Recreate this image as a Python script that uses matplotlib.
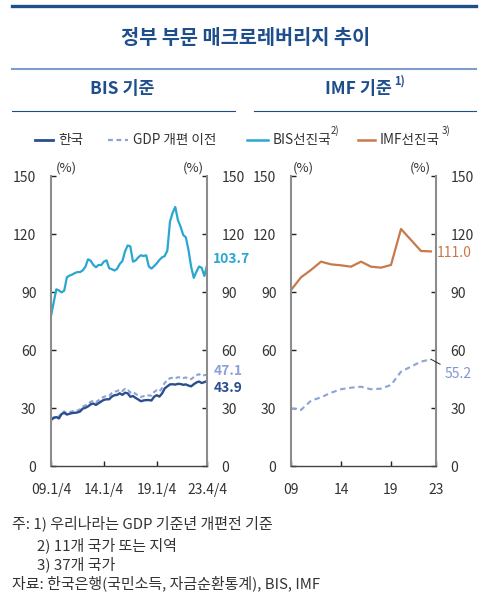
import numpy as np
import matplotlib
matplotlib.use("Agg")
import matplotlib.pyplot as plt
from matplotlib.lines import Line2D

plt.rcParams['font.family'] = ['Noto Sans CJK KR', 'DejaVu Sans']

W, H = 492, 601

# ---------- data ----------
# BIS basis, quarterly 2009.Q1 ~ 2023.Q4
bis_korea = [23.8, 24.8, 25.3, 24.6, 26.9, 27.5, 26.6, 27.0, 27.4, 27.5,
             27.7, 28.2, 29.7, 30.1, 30.8, 31.9, 32.3, 31.6, 32.5, 33.4,
             34.2, 34.5, 34.5, 35.9, 36.6, 36.8, 37.6, 36.8, 37.9, 37.6,
             35.8, 36.2, 35.2, 34.4, 33.5, 33.9, 34.1, 34.1, 33.9, 35.8,
             36.6, 35.9, 37.5, 40.1, 41.2, 42.2, 42.3, 42.1, 42.5, 42.4,
             42.0, 42.2, 41.6, 41.2, 42.3, 43.2, 43.7, 42.9, 43.4, 43.9]
bis_korea_old = [24.3, 25.2, 26.0, 25.5, 27.5, 28.2, 27.3, 27.8, 28.3, 28.4,
                 28.7, 29.3, 30.8, 31.3, 32.1, 33.2, 33.7, 33.0, 34.0, 35.0,
                 35.8, 36.2, 36.3, 37.7, 38.5, 38.7, 39.5, 38.8, 39.9, 39.6,
                 37.9, 38.3, 37.3, 36.5, 35.7, 36.1, 36.4, 36.5, 36.4, 38.3,
                 39.2, 38.6, 40.3, 43.0, 44.3, 45.4, 45.6, 45.4, 45.9, 45.8,
                 45.5, 45.8, 45.2, 44.9, 46.0, 46.9, 47.5, 46.7, 47.0, 47.1]
bis_adv = [77.6, 84.5, 91.4, 90.8, 89.8, 90.7, 97.6, 98.5, 99.0, 99.8,
           100.3, 100.3, 101.2, 103.0, 106.9, 106.2, 104.0, 102.8, 104.0, 103.9,
           105.7, 106.4, 102.3, 101.8, 101.1, 102.0, 104.5, 106.0, 111.0, 114.1,
           113.6, 105.7, 106.3, 107.9, 109.0, 108.6, 109.0, 103.2, 102.1, 103.4,
           104.8, 106.6, 107.9, 108.6, 111.4, 126.4, 131.0, 134.0, 127.2, 123.8,
           119.5, 118.3, 111.7, 103.1, 97.3, 100.5, 103.2, 102.5, 98.3, 103.7]
bis_xticks = ["09.1/4", "14.1/4", "19.1/4", "23.4/4"]

# IMF basis, annual 2009 ~ 2023
imf_years = list(range(2009, 2024))
imf_korea = [29.8, 29.0, 33.8, 35.5, 37.9, 39.7, 40.5, 41.0, 39.7, 40.0,
             41.9, 48.8, 51.4, 54.0, 55.2]
imf_adv = [91.0, 97.6, 101.4, 105.7, 104.3, 103.8, 103.1, 105.7, 103.1, 102.6,
           104.0, 122.6, 116.9, 111.2, 111.0]
imf_xticks = ["09", "14", "19", "23"]

C_KOR = "#2B4E8E"
C_OLD = "#8DA2D6"
C_BIS = "#2BA6D0"
C_IMF = "#C8794A"
C_TITLE = "#1F4E8C"
C_TXT = "#333333"


def px(x, y):
    return x / W, 1 - y / H


def hline(fig, x0, x1, y, color, lw):
    (a, b), (c, _) = px(x0, y), px(x1, y)
    fig.add_artist(Line2D([a, c], [b, b], color=color, lw=lw,
                          transform=fig.transFigure))


def style_axes(ax):
    ax.set_ylim(0, 150)
    ax.set_yticks([0, 30, 60, 90, 120, 150])
    for s in ["left", "right"]:
        ax.spines[s].set_color("#8C8C8C")
        ax.spines[s].set_linewidth(1.5)
    ax.spines["top"].set_visible(False)
    ax.spines["bottom"].set_color("#444444")
    ax.spines["bottom"].set_linewidth(1.0)
    ax.tick_params(axis="y", left=True, right=True, labelleft=True,
                   labelright=True, direction="in", length=3.5, width=1,
                   color="#222222", pad=10.5, labelsize=10, labelcolor=C_TXT)
    ax.tick_params(axis="x", direction="in", length=3.5, width=1,
                   color="#222222", pad=12.5, labelsize=10, labelcolor=C_TXT)
    ax.patch.set_alpha(0)


fig = plt.figure(figsize=(W / 100, H / 100), dpi=100)

# ---------- header ----------
hline(fig, 12, 476, 6, C_TITLE, 2.4)
fig.text(*px(246, 38), "정부 부문 매크로레버리지 추이", ha="center", va="center",
         fontsize=14.2, fontweight="bold", color=C_TITLE)
hline(fig, 12, 476, 69, "#7F9DCA", 1.5)
fig.text(*px(122, 89), "BIS 기준", ha="center", va="center",
         fontsize=12.5, fontweight="bold", color=C_TITLE)
fig.text(*px(358, 89), "IMF 기준", ha="center", va="center",
         fontsize=12.5, fontweight="bold", color=C_TITLE)
fig.text(*px(394, 81), "1)", ha="left", va="center",
         fontsize=8, fontweight="bold", color=C_TITLE)
hline(fig, 12, 235, 111, C_TITLE, 0.8)
hline(fig, 254, 476, 111, C_TITLE, 0.8)

# ---------- legend ----------
leg_y = 140
items = [(35, 53, C_KOR, "-", 2.0, "한국", None),
         (108, 128, C_OLD, "--", 1.6, "GDP 개편 이전", None),
         (247, 268, C_BIS, "-", 1.8, "BIS선진국", "2)"),
         (358, 375, C_IMF, "-", 1.8, "IMF선진국", "3)")]
for x0, x1, col, ls, lw, lab, sup in items:
    (a, b), (c, _) = px(x0, leg_y), px(x1, leg_y)
    fig.add_artist(Line2D([a, c], [b, b], color=col, lw=lw, ls=ls,
                          dashes=(2.2, 1.6) if ls == "--" else (None, None),
                          transform=fig.transFigure))
    fig.text(*px(x1 + 5, leg_y), lab, ha="left", va="center",
             fontsize=9.8, color=C_TXT)
    if sup:
        sx = 331 if sup == "2)" else 442
        fig.text(*px(sx, leg_y - 9), sup, ha="left", va="center",
                 fontsize=7, color=C_TXT)

# ---------- left panel: BIS ----------
ax1 = fig.add_axes([51 / W, (H - 466) / H, 156 / W, 290 / H])
q = np.arange(len(bis_korea))
ax1.plot(q, bis_adv, color=C_BIS, lw=1.6)
ax1.plot(q, bis_korea_old, color=C_OLD, lw=1.5, dashes=(2.2, 1.4))
ax1.plot(q, bis_korea, color=C_KOR, lw=1.7)
ax1.set_xlim(0, len(q) - 1)
style_axes(ax1)
ax1.set_xticks([0, 20, 40, len(q) - 1])
ax1.set_xticklabels(bis_xticks)
ax1.text(0.096, 1.005, "(%)", transform=ax1.transAxes, ha="center",
         va="bottom", fontsize=9.5, color=C_TXT)
ax1.text(0.91, 1.005, "(%)", transform=ax1.transAxes, ha="center",
         va="bottom", fontsize=9.5, color=C_TXT)
for vals, col, dy in [(bis_adv, C_BIS, 4.7), (bis_korea_old, C_OLD, 3),
                      (bis_korea, C_KOR, -5)]:
    ax1.annotate(f"{vals[-1]:.1f}", xy=(q[-1], vals[-1]), xytext=(4.5, dy),
                 textcoords="offset points", ha="left", va="center",
                 fontsize=10, fontweight="bold", color=col,
                 annotation_clip=False)

# ---------- right panel: IMF ----------
ax2 = fig.add_axes([291 / W, (H - 466) / H, 145 / W, 290 / H])
ax2.plot(imf_years, imf_adv, color=C_IMF, lw=1.6)
ax2.plot(imf_years, imf_korea, color=C_OLD, lw=1.5, dashes=(2.6, 1.8))
ax2.set_xlim(imf_years[0], imf_years[-1] + 0.5)
style_axes(ax2)
ax2.set_xticks([2009, 2014, 2019, imf_years[-1] + 0.5])
ax2.set_xticklabels(imf_xticks)
ax2.text(0.083, 1.005, "(%)", transform=ax2.transAxes, ha="center",
         va="bottom", fontsize=9.5, color=C_TXT)
ax2.text(0.89, 1.005, "(%)", transform=ax2.transAxes, ha="center",
         va="bottom", fontsize=9.5, color=C_TXT)
ax2.annotate(f"{imf_adv[-1]:.1f}", xy=(imf_years[-1], imf_adv[-1]),
             xytext=(4.5, -1), textcoords="offset points", ha="left",
             va="center", fontsize=10, color=C_IMF, annotation_clip=False)
ax2.annotate(f"{imf_korea[-1]:.1f}", xy=(imf_years[-1], imf_korea[-1]),
             xytext=(9.5, -10.5), textcoords="offset points", ha="left",
             va="center", fontsize=10, color="#7F97CF", annotation_clip=False,
             arrowprops=dict(arrowstyle="-", color="#222222", lw=0.7,
                             shrinkA=1, shrinkB=0))

# ---------- footnotes ----------
notes = [(12, 523, "주: 1) 우리나라는 GDP 기준년 개편전 기준"),
         (37, 545, "2) 11개 국가 또는 지역"),
         (37, 564, "3) 37개 국가"),
         (12, 583, "자료: 한국은행(국민소득, 자금순환통계), BIS, IMF")]
for x, y, s in notes:
    fig.text(*px(x, y), s, ha="left", va="center", fontsize=10.8, color=C_TXT)

fig.savefig("out.png", dpi=100)
